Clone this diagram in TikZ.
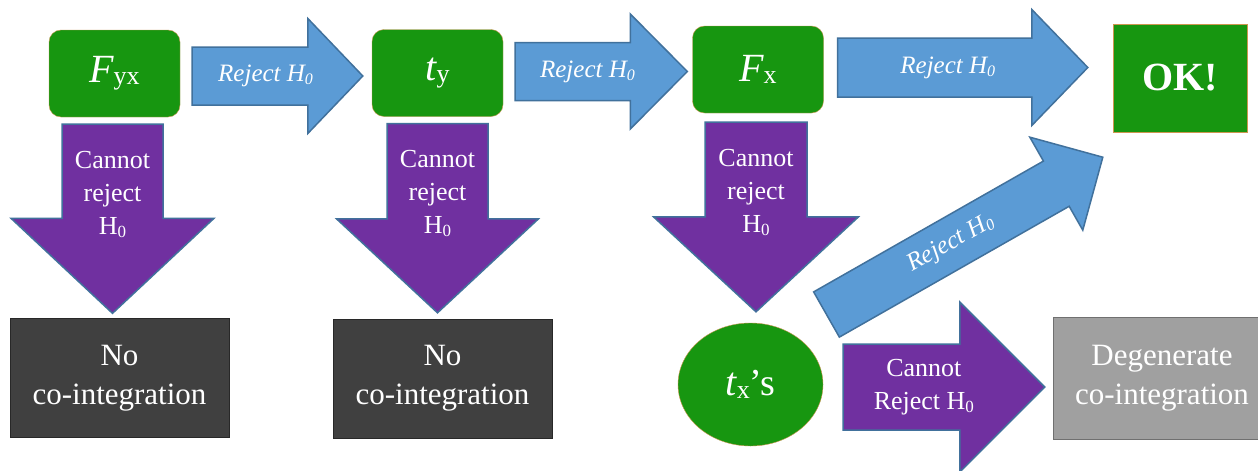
\documentclass[tikz,border=0pt]{standalone}
\usepackage{fontspec}
\setmainfont{Liberation Serif}
\usepackage{tikz}
\usetikzlibrary{calc,shapes.geometric}

\definecolor{okgreen}{RGB}{23,150,16}
\definecolor{okedge}{RGB}{205,150,80}
\definecolor{rejblue}{RGB}{91,155,213}
\definecolor{arrowedge}{RGB}{65,113,156}
\definecolor{keeppurple}{RGB}{112,48,160}
\definecolor{nogray}{RGB}{64,64,64}
\definecolor{noedge}{RGB}{40,40,40}
\definecolor{deggray}{RGB}{160,160,160}
\definecolor{degedge}{RGB}{112,112,112}

% block arrow: style, from, to, half shaft, half head, head length, label options, label
\newcommand{\blockarrow}[8]{%
  \coordinate (ba-a) at #2;
  \coordinate (ba-b) at #3;
  \coordinate (ba-h) at ($(ba-b)!#6!(ba-a)$);
  \draw[#1] ($(ba-a)!#4!90:(ba-b)$) -- ($(ba-h)!#4!-90:(ba-a)$) -- ($(ba-h)!#5!-90:(ba-a)$)
    -- (ba-b) -- ($(ba-h)!#5!90:(ba-a)$) -- ($(ba-h)!#4!90:(ba-a)$) -- ($(ba-a)!#4!-90:(ba-b)$) -- cycle;
  \path (ba-a) -- (ba-b) node[#7] {#8};
}
\newcommand{\subzero}[1]{\raisebox{-3pt}{\fontsize{#1}{#1}\selectfont 0}}

\begin{document}
\begin{tikzpicture}[x=1pt,y=-1pt]
\tikzstyle{greenbox}=[draw=okedge,fill=okgreen,rounded corners=12pt,minimum width=131pt,minimum height=87pt,inner sep=0pt,text=white]
\tikzstyle{endbox}=[draw=noedge,fill=nogray,minimum width=219pt,minimum height=119pt,inner sep=0pt,text=white,align=center,font=\fontsize{31}{39}\selectfont]
\tikzstyle{rejarrow}=[fill=rejblue,draw=arrowedge,line width=1.5pt]
\tikzstyle{keeparrow}=[fill=keeppurple,draw=arrowedge,line width=1.5pt]
\tikzstyle{rejtext}=[text=white,font=\fontsize{25}{25}\selectfont\itshape]
\tikzstyle{keeptext}=[text=white,align=center,font=\fontsize{26}{33}\selectfont]

\path[use as bounding box,fill=white] (0,0) rectangle (1258,471);

% test statistics
\node[greenbox] (fyx) at (114.5,73.5) {{\fontsize{40}{40}\selectfont\itshape F}\raisebox{-2pt}{\fontsize{26}{26}\selectfont yx}};
\node[greenbox] (ty) at (437.5,73) {{\fontsize{40}{40}\selectfont\itshape t}\raisebox{-2pt}{\fontsize{26}{26}\selectfont y}};
\node[greenbox] (fx) at (758,69.5) {{\fontsize{40}{40}\selectfont\itshape F}\raisebox{-2pt}{\fontsize{26}{26}\selectfont x}};
\node[ellipse,draw=okedge,fill=okgreen,minimum width=145pt,minimum height=123pt,inner sep=0pt,text=white] (txs) at (750.5,384.5)
  {{\fontsize{40}{40}\selectfont\itshape t}\raisebox{-3pt}{\fontsize{26}{26}\selectfont x}{\fontsize{38}{38}\selectfont ’s}};

% outcomes
\node[draw=okedge,fill=okgreen,minimum width=134pt,minimum height=108pt,text=white,font=\fontsize{40}{40}\selectfont\bfseries] (ok) at (1180,78) {OK!};
\node[endbox] (nci1) at (119.5,378) {No\\co-integration};
\node[endbox] (nci2) at (442.5,378.5) {No\\co-integration};
\node[endbox,fill=deggray,draw=degedge,minimum width=218pt,minimum height=122pt] (deg) at (1162,378) {Degenerate\\co-integration};

% reject arrows
\blockarrow{rejarrow}{($(fyx.east)+(12,2.5)$)}{($(ty.west)+(-9,3)$)}{29pt}{57.5pt}{55pt}{name=rej1,rejtext,pos=0.43}{Reject H\subzero{16}}
\blockarrow{rejarrow}{($(ty.east)+(12,-1.5)$)}{($(fx.west)+(-5,2)$)}{29pt}{57.5pt}{57pt}{name=rej2,rejtext,pos=0.42}{Reject H\subzero{16}}
\blockarrow{rejarrow}{($(fx.east)+(14,-2)$)}{($(ok.west)+(-25,-10.5)$)}{29.5pt}{58pt}{56pt}{name=rej3,rejtext,pos=0.44}{Reject H\subzero{16}}
\blockarrow{rejarrow}{($(txs.center)+(76,-70)$)}{($(ok.south west)+(-10,25)$)}{26pt}{53.5pt}{53.5pt}{name=rej4,rejtext,pos=0.45,rotate=29.5}{Reject H\subzero{16}}

% cannot reject arrows
\blockarrow{keeparrow}{($(fyx.south)+(-2,7)$)}{($(nci1.north)+(-7,-5)$)}{50.5pt}{101.5pt}{95pt}{name=keep1,keeptext,pos=0.37}{Cannot\\reject\\H\subzero{17}}
\blockarrow{keeparrow}{($(ty.south)+(0,7)$)}{($(nci2.north)+(-5,-6)$)}{50.5pt}{101pt}{94pt}{name=keep2,keeptext,pos=0.37}{Cannot\\reject\\H\subzero{17}}
\blockarrow{keeparrow}{($(fx.south)+(-2,9)$)}{($(txs.north)+(5.5,-11)$)}{51pt}{102.5pt}{95pt}{name=keep3,keeptext,pos=0.37}{Cannot\\reject\\H\subzero{17}}
\blockarrow{keeparrow}{($(txs.east)+(20,2.5)$)}{($(deg.west)+(-8,9)$)}{43pt}{85pt}{85pt}{name=keep4,keeptext,pos=0.40}{Cannot\\Reject H\subzero{17}}
\end{tikzpicture}
\end{document}
